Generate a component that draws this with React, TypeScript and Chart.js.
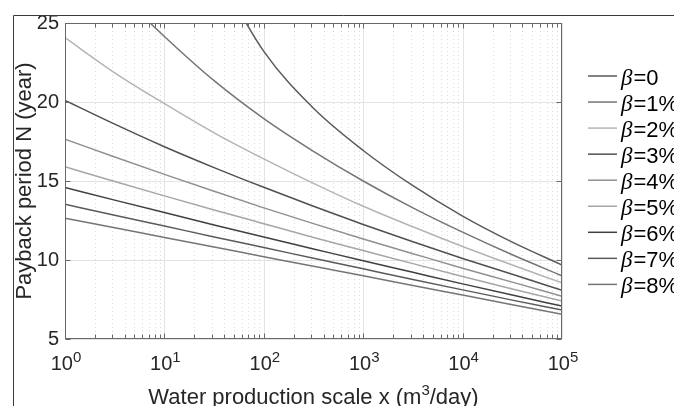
import React, { useEffect, useRef } from 'react';
import { Chart, registerables } from 'chart.js';

Chart.register(...registerables);

// ---------------- data ----------------
const xValues = [1, 3.162, 10, 31.62, 100, 316.2, 1000, 3162, 10000, 31623, 100000];
const betaNames = ['0', '1%', '2%', '3%', '4%', '5%', '6%', '7%', '8%'];
const beta0 = [null, null, null, 28.6, 23.2, 19.6, 16.93, 14.7, 12.78, 11.13, 9.68];
const beta1 = [30.7, 27.2, 24.15, 21.35, 18.95, 16.88, 15.0, 13.3, 11.76, 10.33, 9.0];
const beta2 = [24.07, 21.85, 19.9, 18.05, 16.4, 14.85, 13.4, 12.1, 10.85, 9.68, 8.55];
const beta3 = [20.1, 18.6, 17.17, 15.85, 14.6, 13.4, 12.25, 11.15, 10.1, 9.1, 8.08];
const beta4 = [17.65, 16.52, 15.42, 14.35, 13.3, 12.3, 11.33, 10.4, 9.48, 8.6, 7.7];
const beta5 = [15.9, 14.97, 14.06, 13.17, 12.3, 11.43, 10.6, 9.77, 8.96, 8.17, 7.4];
const beta6 = [14.59, 13.79, 13.0, 12.22, 11.45, 10.7, 9.95, 9.22, 8.49, 7.78, 7.08];
const beta7 = [13.53, 12.83, 12.15, 11.46, 10.79, 10.11, 9.44, 8.77, 8.11, 7.46, 6.83];
const beta8 = [12.65, 12.04, 11.43, 10.82, 10.21, 9.6, 9.0, 8.39, 7.78, 7.17, 6.56];
const seriesValues = [beta0, beta1, beta2, beta3, beta4, beta5, beta6, beta7, beta8];
const seriesColors = ['#5a5a5a', '#757575', '#b4b4b4', '#505050', '#909090', '#a6a6a6', '#404040', '#5a5a5a', '#757575'];
const yTickValues = [5, 10, 15, 20, 25];
const xDecades = [0, 1, 2, 3, 4, 5];
const xTitleMain = 'Water production scale x (m';
const xTitleSup = '3';
const xTitleEnd = '/day)';
const yTitle = 'Payback period N (year)';

const SANS = '"Liberation Sans", Arial, Helvetica, sans-serif';
const SERIF = '"Liberation Serif", "DejaVu Serif", serif';

const decorPlugin = {
  id: 'decor',
  beforeDatasetsDraw(chart: any) {
    const { ctx, chartArea: a } = chart;
    const xs = chart.scales.x;
    const ys = chart.scales.y;
    ctx.save();
    ctx.lineWidth = 1;
    // minor vertical grid (dotted)
    ctx.strokeStyle = '#dadada';
    ctx.setLineDash([1, 3]);
    for (let d = 0; d < 5; d++) {
      for (let k = 2; k <= 9; k++) {
        const px = Math.round(xs.getPixelForValue(k * Math.pow(10, d))) + 0.5;
        ctx.beginPath();
        ctx.moveTo(px, a.top);
        ctx.lineTo(px, a.bottom);
        ctx.stroke();
      }
    }
    ctx.setLineDash([]);
    // major grid
    ctx.strokeStyle = '#e3e3e3';
    for (const d of xDecades) {
      const px = Math.round(xs.getPixelForValue(Math.pow(10, d))) + 0.5;
      ctx.beginPath();
      ctx.moveTo(px, a.top);
      ctx.lineTo(px, a.bottom);
      ctx.stroke();
    }
    for (const v of yTickValues) {
      const py = Math.round(ys.getPixelForValue(v)) + 0.5;
      ctx.beginPath();
      ctx.moveTo(a.left, py);
      ctx.lineTo(a.right, py);
      ctx.stroke();
    }
    ctx.restore();
  },
  afterDraw(chart: any) {
    const { ctx, chartArea: a } = chart;
    const xs = chart.scales.x;
    const ys = chart.scales.y;
    ctx.save();
    // axes box
    const L = Math.round(a.left) + 0.5;
    const R = Math.round(a.right) - 0.5;
    const T = Math.round(a.top) + 0.5;
    const B = Math.round(a.bottom) - 0.5;
    ctx.strokeStyle = '#686868';
    ctx.lineWidth = 1;
    ctx.strokeRect(L, T, R - L, B - T);
    // x ticks (inward, bottom and top)
    ctx.beginPath();
    for (let d = 0; d < 5; d++) {
      for (let k = 1; k <= 9; k++) {
        const px = Math.round(xs.getPixelForValue(k * Math.pow(10, d))) + 0.5;
        const len = k === 1 ? 5 : 4;
        ctx.moveTo(px, B);
        ctx.lineTo(px, B - len);
        ctx.moveTo(px, T);
        ctx.lineTo(px, T + len);
      }
    }
    // y ticks (inward, left and right)
    for (const v of yTickValues) {
      const py = Math.round(ys.getPixelForValue(v)) + 0.5;
      ctx.moveTo(L, py);
      ctx.lineTo(L + 5, py);
      ctx.moveTo(R, py);
      ctx.lineTo(R - 5, py);
    }
    ctx.stroke();

    // x tick labels 10^d
    ctx.fillStyle = '#262626';
    ctx.textBaseline = 'alphabetic';
    ctx.textAlign = 'left';
    for (const d of xDecades) {
      const px = xs.getPixelForValue(Math.pow(10, d));
      ctx.font = `20px ${SANS}`;
      const w1 = ctx.measureText('10').width;
      ctx.font = `15px ${SANS}`;
      const w2 = ctx.measureText(String(d)).width;
      const x0 = px - (w1 + w2) / 2 + 1;
      ctx.font = `20px ${SANS}`;
      ctx.fillText('10', x0, 370);
      ctx.font = `15px ${SANS}`;
      ctx.fillText(String(d), x0 + w1, 362);
    }

    // x title
    ctx.font = `22px ${SANS}`;
    const wa = ctx.measureText(xTitleMain).width;
    const wc = ctx.measureText(xTitleEnd).width;
    ctx.font = `15px ${SANS}`;
    const wb = ctx.measureText(xTitleSup).width;
    const cx = (a.left + a.right) / 2;
    let tx = cx - (wa + wb + wc) / 2;
    ctx.font = `22px ${SANS}`;
    ctx.fillText(xTitleMain, tx, 404);
    tx += wa;
    ctx.font = `15px ${SANS}`;
    ctx.fillText(xTitleSup, tx, 395);
    tx += wb;
    ctx.font = `22px ${SANS}`;
    ctx.fillText(xTitleEnd, tx, 404);

    // y title
    ctx.save();
    ctx.translate(31, (a.top + a.bottom) / 2);
    ctx.rotate(-Math.PI / 2);
    ctx.textAlign = 'center';
    ctx.font = `22px ${SANS}`;
    ctx.fillText(yTitle, 0, 0);
    ctx.restore();

    // legend
    for (let i = 0; i < betaNames.length; i++) {
      const ly = 76 + 26.05 * i;
      ctx.strokeStyle = seriesColors[i];
      ctx.lineWidth = 1.5;
      ctx.beginPath();
      ctx.moveTo(588, ly);
      ctx.lineTo(617, ly);
      ctx.stroke();
      ctx.fillStyle = '#000000';
      ctx.textAlign = 'left';
      ctx.font = `italic 23px ${SERIF}`;
      ctx.fillText('β', 621, ly + 9);
      const wbeta = ctx.measureText('β').width;
      ctx.font = `22px ${SANS}`;
      ctx.fillText('=' + betaNames[i], 621 + wbeta + 1, ly + 9);
    }

    // figure frame (top & left)
    ctx.strokeStyle = '#3a3a3a';
    ctx.lineWidth = 1;
    ctx.beginPath();
    ctx.moveTo(13.5, 406);
    ctx.lineTo(13.5, 15.5);
    ctx.lineTo(674, 15.5);
    ctx.stroke();
    ctx.restore();
  },
};

export default function App() {
  const canvasRef = useRef<HTMLCanvasElement | null>(null);

  useEffect(() => {
    const canvas = canvasRef.current;
    if (!canvas) return;
    const chart = new Chart(canvas, {
      type: 'line',
      data: {
        datasets: seriesValues.map((vals, i) => ({
          label: 'β=' + betaNames[i],
          data: xValues.map((x, j) => ({ x, y: vals[j] })),
          borderColor: seriesColors[i],
          backgroundColor: seriesColors[i],
          borderWidth: 1.5,
          pointRadius: 0,
          fill: false,
          cubicInterpolationMode: 'monotone',
          spanGaps: false,
        })),
      },
      options: {
        animation: false,
        responsive: false,
        maintainAspectRatio: false,
        devicePixelRatio: 1,
        layout: { padding: { top: 23, right: 112, left: 0, bottom: 0 } },
        plugins: {
          legend: { display: false },
          tooltip: { enabled: false },
        },
        scales: {
          x: {
            type: 'logarithmic',
            min: 1,
            max: 100000,
            grid: { display: false, drawTicks: false },
            border: { display: false },
            ticks: { display: false },
            afterFit: (s: any) => {
              s.height = 67;
            },
          },
          y: {
            type: 'linear',
            min: 5,
            max: 25,
            grid: { display: false, drawTicks: false },
            border: { display: false },
            ticks: {
              stepSize: 5,
              padding: 6,
              color: '#262626',
              font: { family: SANS, size: 20 },
            },
            afterFit: (s: any) => {
              s.width = 65;
            },
          },
        },
      } as any,
      plugins: [decorPlugin],
    });
    return () => chart.destroy();
  }, []);

  return (
    <div style={{ position: 'fixed', left: 0, top: 0, width: 674, height: 406, background: '#ffffff' }}>
      <canvas ref={canvasRef} width={674} height={406} style={{ width: 674, height: 406, display: 'block' }} />
    </div>
  );
}
